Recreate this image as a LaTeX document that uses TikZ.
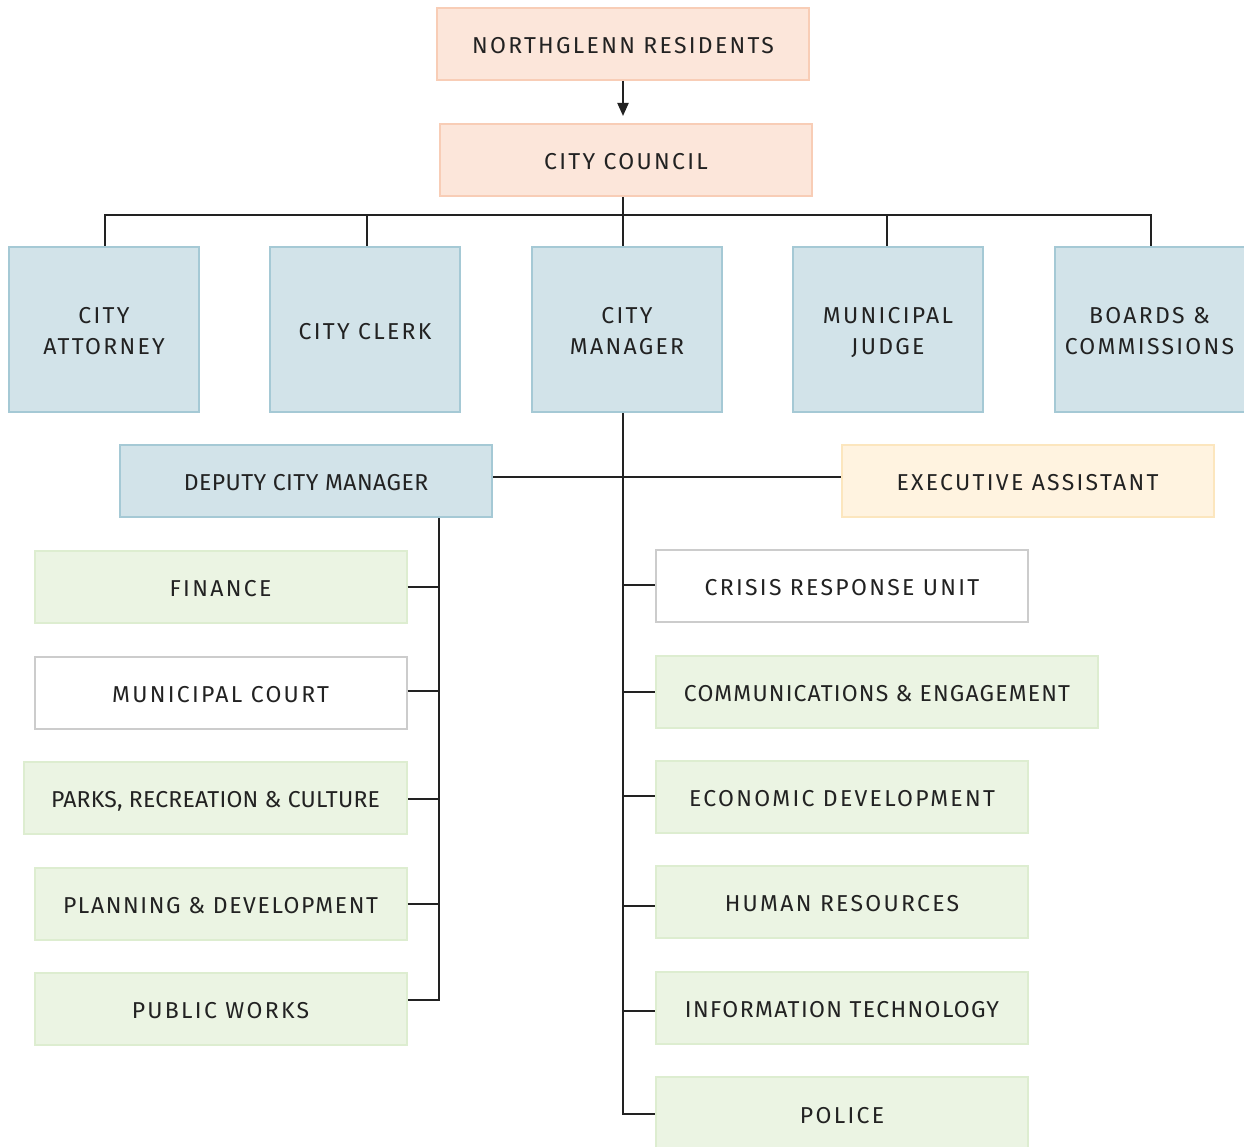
\documentclass[tikz,border=0pt]{standalone}
\usepackage{fontspec}
\setmainfont{Fira Sans}
\newfontfamily\widefont[LetterSpace=10]{Fira Sans}
\newfontfamily\midfont[LetterSpace=7]{Fira Sans}
\newfontfamily\narrowfont[LetterSpace=6]{Fira Sans}
\newfontfamily\tightfont[LetterSpace=2]{Fira Sans}
\newfontfamily\commfont[LetterSpace=5]{Fira Sans}
\newfontfamily\parksfont[LetterSpace=1]{Fira Sans}
\usetikzlibrary{arrows.meta}
\definecolor{ink}{HTML}{222222}
\definecolor{peachfill}{HTML}{FCE6DA}
\definecolor{peachline}{HTML}{F8CDB6}
\definecolor{bluefill}{HTML}{D2E3E9}
\definecolor{blueline}{HTML}{A5C9D5}
\definecolor{greenfill}{HTML}{EBF4E3}
\definecolor{greenline}{HTML}{DDEDD0}
\definecolor{yellowfill}{HTML}{FFF3E0}
\definecolor{yellowline}{HTML}{FCE6BE}
\definecolor{greyline}{HTML}{CCCCCC}
\tikzset{
  x=1pt, y=-1pt,
  unit/.style={draw, line width=2pt, inner sep=0pt, align=center, text=ink,
    text height=19pt, text depth=0pt,
    font=\fontsize{23}{31}\widefont},
  twoline/.style={text height=50pt, text depth=0pt},
  peach/.style={unit, fill=peachfill, draw=peachline, minimum width=372pt, minimum height=72pt},
  office/.style={unit, fill=bluefill, draw=blueline, minimum width=190pt, minimum height=165pt},
  deputy/.style={unit, fill=bluefill, draw=blueline, minimum width=372pt, minimum height=72pt, font=\fontsize{23}{31}\tightfont},
  dept/.style={unit, fill=greenfill, draw=greenline, minimum width=372pt, minimum height=72pt},
  plain/.style={unit, fill=white, draw=greyline, minimum width=372pt, minimum height=72pt},
  assist/.style={unit, fill=yellowfill, draw=yellowline, minimum width=372pt, minimum height=72pt},
  link/.style={draw=ink, line width=2pt},
}
\begin{document}
\begin{tikzpicture}
\useasboundingbox (0,0) rectangle (1244,1147);
\clip (0,0) rectangle (1244,1147);

% top of the chain
\node[peach] (res) at (623,44) {NORTHGLENN RESIDENTS};
\node[peach] (council) at (626,160) {CITY COUNCIL};

% officers reporting to council
\node[office, twoline] (atty) at (104,329.5) {CITY\\ATTORNEY};
\node[office] (clerk) at (365,329.5) {CITY CLERK};
\node[office, twoline] (mgr) at (627,329.5) {CITY\\MANAGER};
\node[office, twoline] (judge) at (888,329.5) {MUNICIPAL\\JUDGE};
\node[office, twoline] (boards) at (1149.5,329.5) {BOARDS \&\\COMMISSIONS};

% manager's office
\node[deputy] (dep) at (306,481) {DEPUTY CITY MANAGER};
\node[assist] (exec) at (1027.5,481) {EXECUTIVE ASSISTANT};

% departments under the deputy
\node[dept] (fin) at (220.5,587) {FINANCE};
\node[plain] (court) at (220.5,693) {MUNICIPAL COURT};
\node[dept, minimum width=383pt, font=\fontsize{23}{31}\parksfont] (parks) at (215.5,798) {PARKS, RECREATION \& CULTURE};
\node[dept, font=\fontsize{23}{31}\midfont] (plan) at (220.5,904) {PLANNING \& DEVELOPMENT};
\node[dept] (pw) at (220.5,1009) {PUBLIC WORKS};

% departments under the manager
\node[plain] (crisis) at (842,586) {CRISIS RESPONSE UNIT};
\node[dept, minimum width=442pt, font=\fontsize{23}{31}\commfont] (comm) at (877,692) {COMMUNICATIONS \& ENGAGEMENT};
\node[dept] (econ) at (842,797) {ECONOMIC DEVELOPMENT};
\node[dept] (hr) at (842,902) {HUMAN RESOURCES};
\node[dept, font=\fontsize{23}{31}\narrowfont] (it) at (842,1007.5) {INFORMATION TECHNOLOGY};
\node[dept, minimum height=73pt] (police) at (842,1113.5) {POLICE};

% connectors
\draw[link, -{Triangle[length=13pt,width=11pt]}] (res.south -| 623,0) -- (623,116) coordinate (tip);
\coordinate (bus) at (623,215);
\draw[link] (council.south -| bus) -- (mgr.north -| bus);
\draw[link] (atty.north -| 105,0) |- (bus) -| (boards.north -| 1151,0);
\draw[link] (clerk.north -| 367,0) -- (367,215);
\draw[link] (judge.north -| 887,0) -- (887,215);

\coordinate (trunk) at (623,0);
\draw[link] (mgr.south -| trunk) |- (police.west);
\draw[link] (dep.east |- 0,477) -- (exec.west |- 0,477);
\foreach \n/\y in {crisis/585, comm/692, econ/796, hr/906, it/1011}
  \draw[link] (623,\y) -- (\n.west |- 0,\y);

\coordinate (dtrunk) at (439,0);
\draw[link] (dep.south -| dtrunk) |- (pw.east |- 0,1000);
\foreach \n/\y in {fin/587, court/691, parks/799, plan/904}
  \draw[link] (\n.east |- 0,\y) -- (439,\y);
\end{tikzpicture}
\end{document}
